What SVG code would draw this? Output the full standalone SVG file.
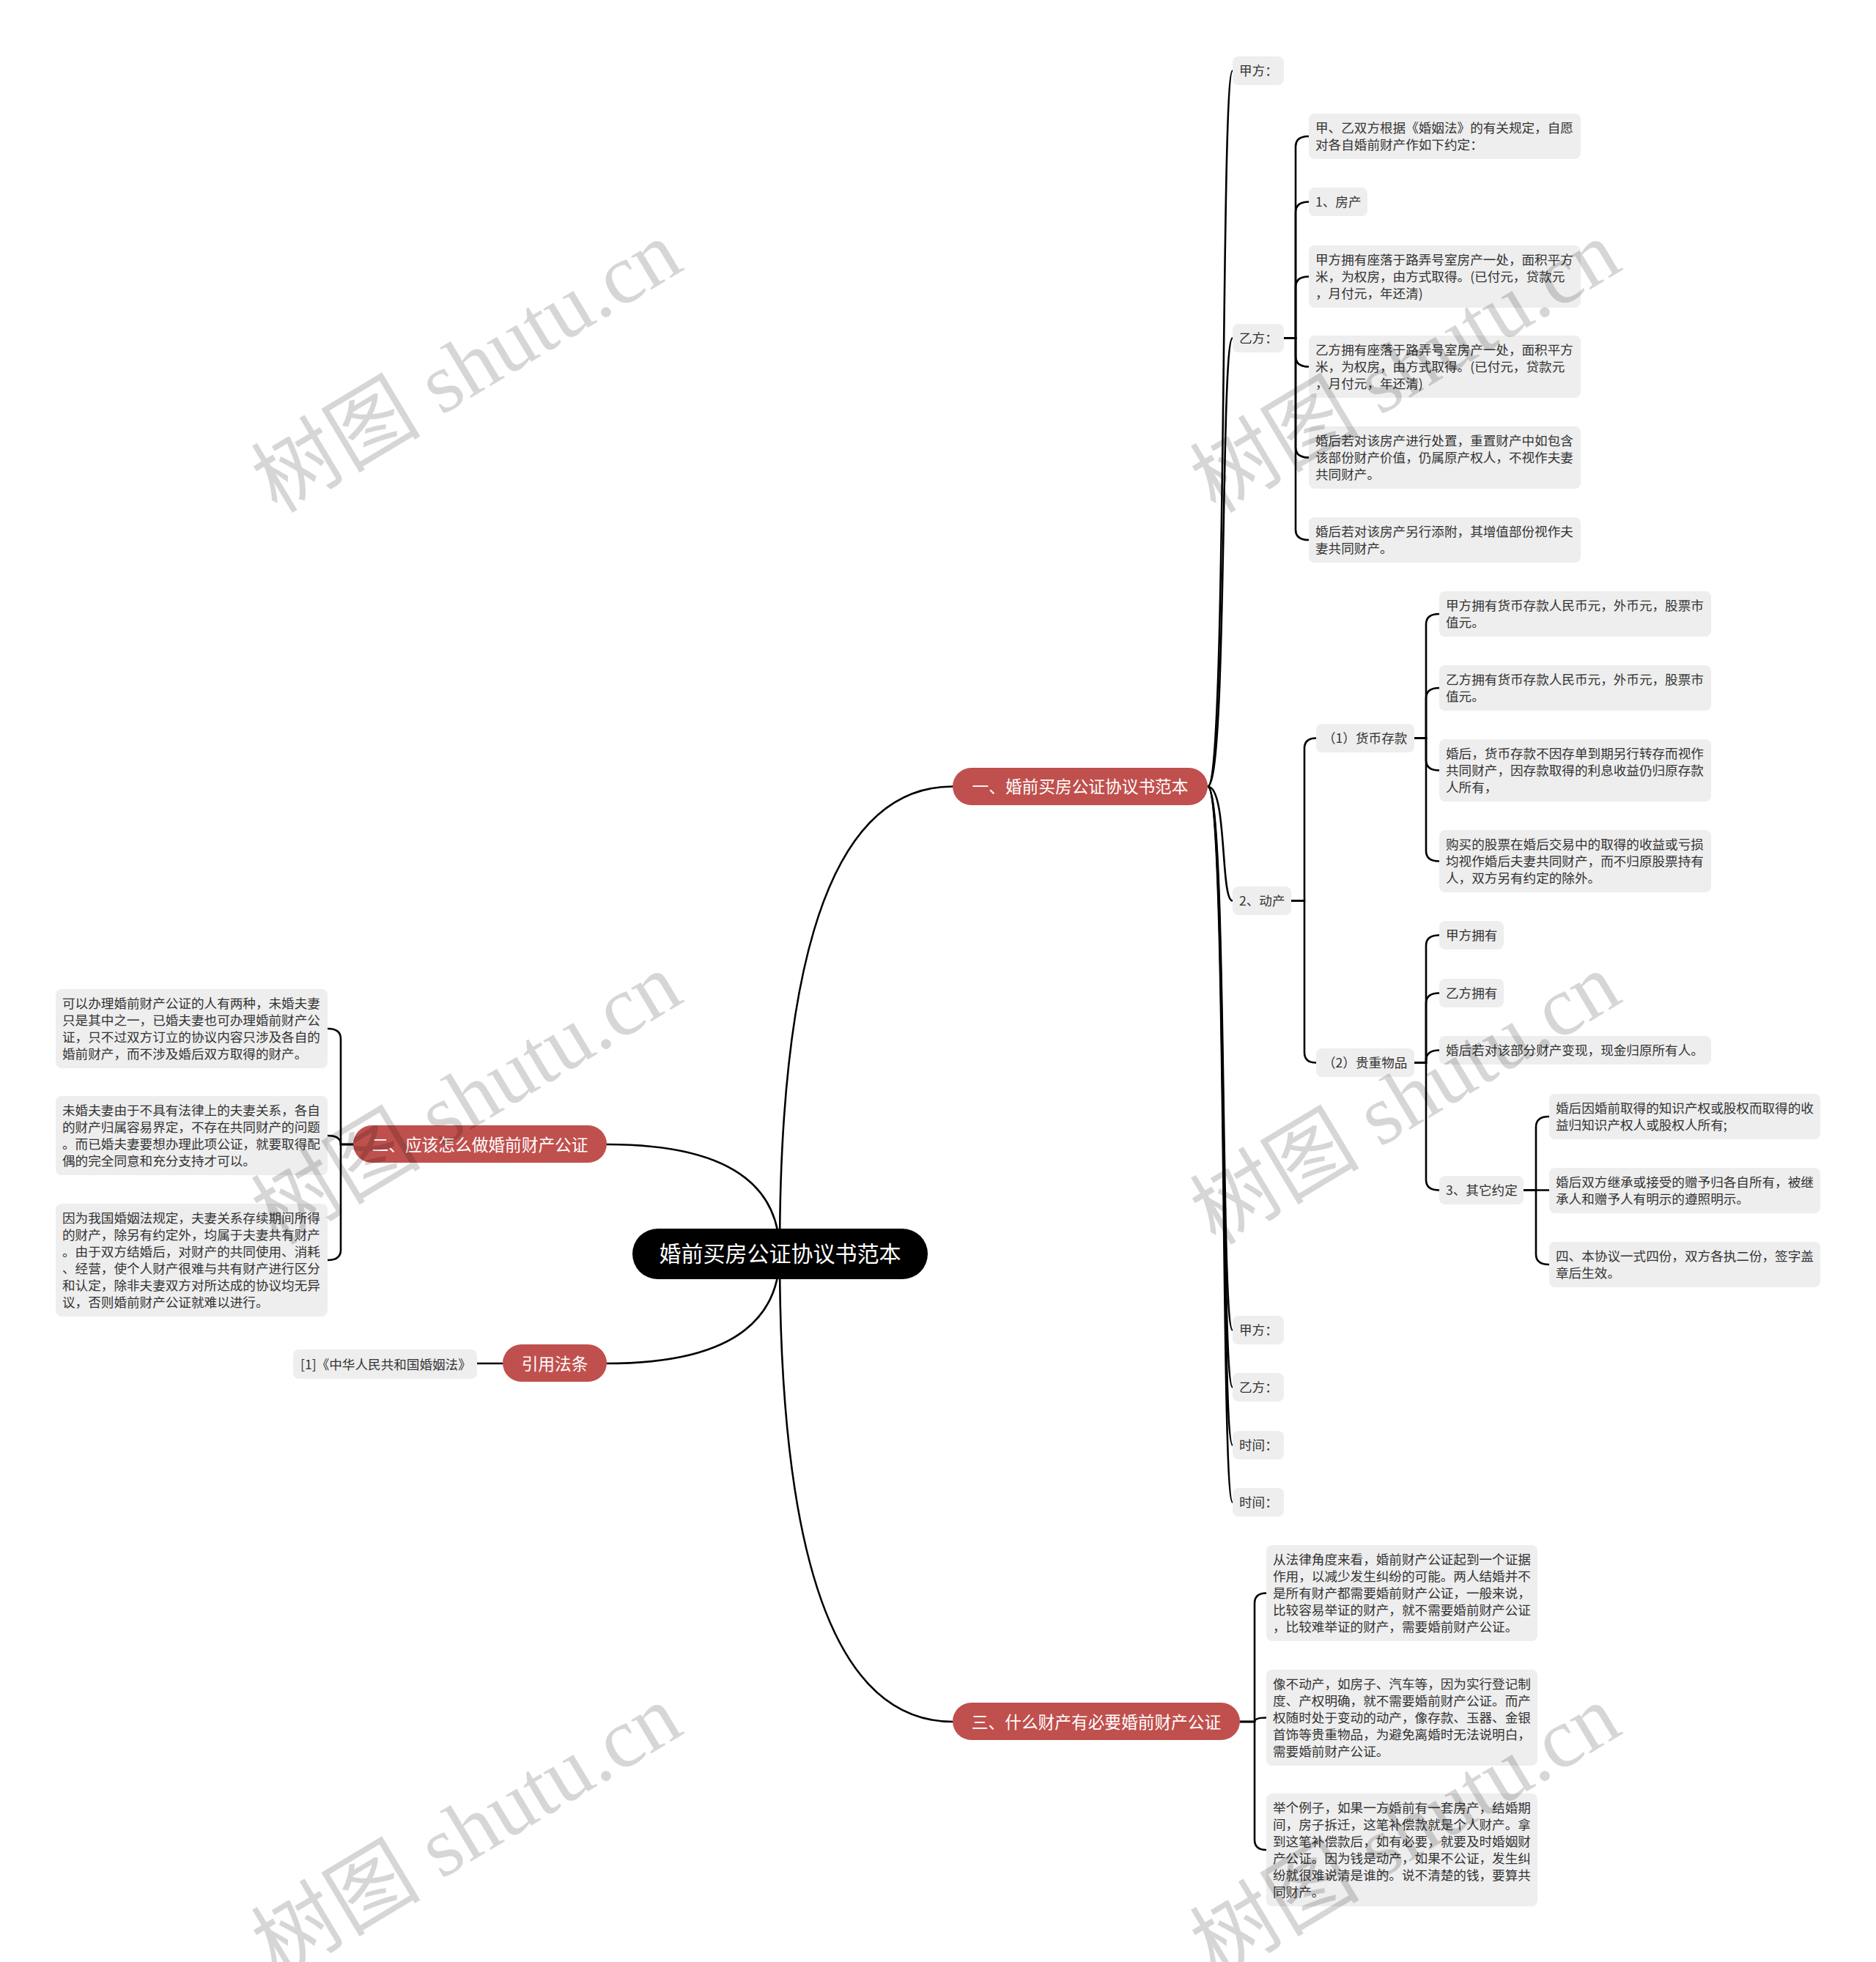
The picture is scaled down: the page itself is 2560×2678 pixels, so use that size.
<svg xmlns="http://www.w3.org/2000/svg" width="2560" height="2678" viewBox="0 0 2560 2678">
<style>
.conn path{fill:none;stroke:#000;stroke-width:2.6;stroke-linecap:round}
.leaf rect{fill:#eeeeee}
.leaf text{font-family:"Noto Sans CJK SC","Noto Sans",sans-serif;font-size:17.6px;fill:#333333}
.br rect{fill:#c0504d}
.br text{font-family:"Noto Sans CJK SC","Noto Sans",sans-serif;font-size:22.7px;fill:#ffffff;text-anchor:middle}
.root rect{fill:#000000}
.root text{font-family:"Noto Sans CJK SC","Noto Sans",sans-serif;font-size:30px;fill:#ffffff;text-anchor:middle}
.wm text{font-family:"Liberation Serif","Noto Sans CJK SC",serif;font-size:116px;fill:#000;fill-opacity:0.16}
</style>
<rect width="2560" height="2678" fill="#ffffff"/>
<g id="connectors" class="conn">
<path d="M1064 1711 Q1064 1073.5 1300 1073.5"/>
<path d="M1064 1711 Q1064 2350 1300 2350"/>
<path d="M1064 1711 Q1064 1562 828 1562"/>
<path d="M1064 1711 Q1064 1861 828 1861"/>
<path d="M686 1861 H651"/>
<path d="M1648 1073.5 C1675 1073.5 1665 96.5 1682 96.5"/>
<path d="M1648 1073.5 C1675 1073.5 1665 461.5 1682 461.5"/>
<path d="M1648 1073.5 C1675 1073.5 1665 1229.5 1682 1229.5"/>
<path d="M1648 1073.5 C1675 1073.5 1665 1815.5 1682 1815.5"/>
<path d="M1648 1073.5 C1675 1073.5 1665 1893.5 1682 1893.5"/>
<path d="M1648 1073.5 C1675 1073.5 1665 1972.5 1682 1972.5"/>
<path d="M1648 1073.5 C1675 1073.5 1665 2050.5 1682 2050.5"/>
<path d="M1752 461.5 H1768 V200 Q1768 186 1786 186"/>
<path d="M1752 461.5 H1768 V289.5 Q1768 275.5 1786 275.5"/>
<path d="M1752 461.5 H1768 V391.5 Q1768 377.5 1786 377.5"/>
<path d="M1752 461.5 H1768 V486.5 Q1768 500.5 1786 500.5"/>
<path d="M1752 461.5 H1768 V610.5 Q1768 624.5 1786 624.5"/>
<path d="M1752 461.5 H1768 V723 Q1768 737 1786 737"/>
<path d="M1762 1229.5 H1780 V1021.5 Q1780 1007.5 1796 1007.5"/>
<path d="M1762 1229.5 H1780 V1436.5 Q1780 1450.5 1796 1450.5"/>
<path d="M1930 1007.5 H1946 V852 Q1946 838 1964 838"/>
<path d="M1930 1007.5 H1946 V953 Q1946 939 1964 939"/>
<path d="M1930 1007.5 H1946 V1037.5 Q1946 1051.5 1964 1051.5"/>
<path d="M1930 1007.5 H1946 V1161.5 Q1946 1175.5 1964 1175.5"/>
<path d="M1930 1450.5 H1946 V1290.5 Q1946 1276.5 1964 1276.5"/>
<path d="M1930 1450.5 H1946 V1369.5 Q1946 1355.5 1964 1355.5"/>
<path d="M1930 1450.5 H1946 V1447.5 Q1946 1433.5 1964 1433.5"/>
<path d="M1930 1450.5 H1946 V1610.5 Q1946 1624.5 1964 1624.5"/>
<path d="M2079 1624.5 H2096 V1538 Q2096 1524 2114 1524"/>
<path d="M2079 1624.5 H2114"/>
<path d="M2079 1624.5 H2096 V1712 Q2096 1726 2114 1726"/>
<path d="M482 1562 H465 V1418 Q465 1404 447 1404"/>
<path d="M482 1562 H465 Q465 1550 447 1550"/>
<path d="M482 1562 H465 V1706 Q465 1720 447 1720"/>
<path d="M1692 2350 H1712 V2188.5 Q1712 2174.5 1728 2174.5"/>
<path d="M1692 2350 H1712 Q1712 2344.5 1728 2344.5"/>
<path d="M1692 2350 H1712 V2511 Q1712 2525 1728 2525"/>
</g>

<g id="root" class="root"><rect x="863" y="1677" width="403" height="69" rx="34.5"/><text x="1064.5" y="1722">婚前买房公证协议书范本</text></g>

<g id="b1" class="br"><rect x="1300" y="1048" width="348" height="51" rx="25.5"/><text x="1474" y="1082">一、婚前买房公证协议书范本</text></g>
<g id="b2" class="br"><rect x="482" y="1536" width="346" height="51" rx="25.5"/><text x="655" y="1570.5">二、应该怎么做婚前财产公证</text></g>
<g id="b4" class="br"><rect x="686" y="1835" width="142" height="51" rx="25.5"/><text x="757" y="1869.5">引用法条</text></g>
<g id="b3" class="br"><rect x="1300" y="2324" width="392" height="51" rx="25.5"/><text x="1496" y="2358.5">三、什么财产有必要婚前财产公证</text></g>

<g id="n-jiafang1" class="leaf"><rect x="1682" y="77" width="70" height="39" rx="8"/><text x="1691" y="103">甲方：</text></g>
<g id="n-yifang1" class="leaf"><rect x="1682" y="442" width="70" height="39" rx="8"/><text x="1691" y="468">乙方：</text></g>
<g id="n-dongchan" class="leaf"><rect x="1682" y="1210" width="80" height="39" rx="8"/><text x="1691" y="1236">2、动产</text></g>
<g id="n-jiafang2" class="leaf"><rect x="1682" y="1796" width="70" height="39" rx="8"/><text x="1691" y="1822">甲方：</text></g>
<g id="n-yifang2" class="leaf"><rect x="1682" y="1874" width="70" height="39" rx="8"/><text x="1691" y="1900">乙方：</text></g>
<g id="n-time1" class="leaf"><rect x="1682" y="1953" width="70" height="39" rx="8"/><text x="1691" y="1979">时间：</text></g>
<g id="n-time2" class="leaf"><rect x="1682" y="2031" width="70" height="39" rx="8"/><text x="1691" y="2057">时间：</text></g>

<g id="n-c1" class="leaf"><rect x="1786" y="155" width="371" height="62" rx="8"/><text x="1795" y="181">甲、乙双方根据《婚姻法》的有关规定，自愿<tspan x="1795" dy="23">对各自婚前财产作如下约定：</tspan></text></g>
<g id="n-c2" class="leaf"><rect x="1786" y="256" width="80" height="39" rx="8"/><text x="1795" y="282">1、房产</text></g>
<g id="n-c3" class="leaf"><rect x="1786" y="335" width="371" height="85" rx="8"/><text x="1795" y="361">甲方拥有座落于路弄号室房产一处，面积平方<tspan x="1795" dy="23">米，为权房，由方式取得。(已付元，贷款元</tspan><tspan x="1795" dy="23">，月付元，年还清)</tspan></text></g>
<g id="n-c4" class="leaf"><rect x="1786" y="458" width="371" height="85" rx="8"/><text x="1795" y="484">乙方拥有座落于路弄号室房产一处，面积平方<tspan x="1795" dy="23">米，为权房，由方式取得。(已付元，贷款元</tspan><tspan x="1795" dy="23">，月付元，年还清)</tspan></text></g>
<g id="n-c5" class="leaf"><rect x="1786" y="582" width="371" height="85" rx="8"/><text x="1795" y="608">婚后若对该房产进行处置，重置财产中如包含<tspan x="1795" dy="23">该部份财产价值，仍属原产权人，不视作夫妻</tspan><tspan x="1795" dy="23">共同财产。</tspan></text></g>
<g id="n-c6" class="leaf"><rect x="1786" y="706" width="371" height="62" rx="8"/><text x="1795" y="732">婚后若对该房产另行添附，其增值部份视作夫<tspan x="1795" dy="23">妻共同财产。</tspan></text></g>

<g id="n-huobi" class="leaf"><rect x="1796" y="988" width="134" height="39" rx="8"/><text x="1805" y="1014">（1）货币存款</text></g>
<g id="n-guizhong" class="leaf"><rect x="1796" y="1431" width="134" height="39" rx="8"/><text x="1805" y="1457">（2）贵重物品</text></g>

<g id="n-d1" class="leaf"><rect x="1964" y="807" width="371" height="62" rx="8"/><text x="1973" y="833">甲方拥有货币存款人民币元，外币元，股票市<tspan x="1973" dy="23">值元。</tspan></text></g>
<g id="n-d2" class="leaf"><rect x="1964" y="908" width="371" height="62" rx="8"/><text x="1973" y="934">乙方拥有货币存款人民币元，外币元，股票市<tspan x="1973" dy="23">值元。</tspan></text></g>
<g id="n-d3" class="leaf"><rect x="1964" y="1009" width="371" height="85" rx="8"/><text x="1973" y="1035">婚后，货币存款不因存单到期另行转存而视作<tspan x="1973" dy="23">共同财产，因存款取得的利息收益仍归原存款</tspan><tspan x="1973" dy="23">人所有，</tspan></text></g>
<g id="n-d4" class="leaf"><rect x="1964" y="1133" width="371" height="85" rx="8"/><text x="1973" y="1159">购买的股票在婚后交易中的取得的收益或亏损<tspan x="1973" dy="23">均视作婚后夫妻共同财产，而不归原股票持有</tspan><tspan x="1973" dy="23">人，双方另有约定的除外。</tspan></text></g>

<g id="n-e1" class="leaf"><rect x="1964" y="1257" width="88" height="39" rx="8"/><text x="1973" y="1283">甲方拥有</text></g>
<g id="n-e2" class="leaf"><rect x="1964" y="1336" width="88" height="39" rx="8"/><text x="1973" y="1362">乙方拥有</text></g>
<g id="n-e3" class="leaf"><rect x="1964" y="1414" width="371" height="39" rx="8"/><text x="1973" y="1440">婚后若对该部分财产变现，现金归原所有人。</text></g>
<g id="n-e4" class="leaf"><rect x="1964" y="1605" width="115" height="39" rx="8"/><text x="1973" y="1631">3、其它约定</text></g>

<g id="n-f1" class="leaf"><rect x="2114" y="1493" width="370" height="62" rx="8"/><text x="2123" y="1519">婚后因婚前取得的知识产权或股权而取得的收<tspan x="2123" dy="23">益归知识产权人或股权人所有;</tspan></text></g>
<g id="n-f2" class="leaf"><rect x="2114" y="1594" width="370" height="62" rx="8"/><text x="2123" y="1620">婚后双方继承或接受的赠予归各自所有，被继<tspan x="2123" dy="23">承人和赠予人有明示的遵照明示。</tspan></text></g>
<g id="n-f3" class="leaf"><rect x="2114" y="1695" width="370" height="62" rx="8"/><text x="2123" y="1721">四、本协议一式四份，双方各执二份，签字盖<tspan x="2123" dy="23">章后生效。</tspan></text></g>

<g id="n-g1" class="leaf"><rect x="76" y="1350" width="371" height="108" rx="8"/><text x="85" y="1376">可以办理婚前财产公证的人有两种，未婚夫妻<tspan x="85" dy="23">只是其中之一，已婚夫妻也可办理婚前财产公</tspan><tspan x="85" dy="23">证，只不过双方订立的协议内容只涉及各自的</tspan><tspan x="85" dy="23">婚前财产，而不涉及婚后双方取得的财产。</tspan></text></g>
<g id="n-g2" class="leaf"><rect x="76" y="1496" width="371" height="108" rx="8"/><text x="85" y="1522">未婚夫妻由于不具有法律上的夫妻关系，各自<tspan x="85" dy="23">的财产归属容易界定，不存在共同财产的问题</tspan><tspan x="85" dy="23">。而已婚夫妻要想办理此项公证，就要取得配</tspan><tspan x="85" dy="23">偶的完全同意和充分支持才可以。</tspan></text></g>
<g id="n-g3" class="leaf"><rect x="76" y="1643" width="371" height="154" rx="8"/><text x="85" y="1669">因为我国婚姻法规定，夫妻关系存续期间所得<tspan x="85" dy="23">的财产，除另有约定外，均属于夫妻共有财产</tspan><tspan x="85" dy="23">。由于双方结婚后，对财产的共同使用、消耗</tspan><tspan x="85" dy="23">、经营，使个人财产很难与共有财产进行区分</tspan><tspan x="85" dy="23">和认定，除非夫妻双方对所达成的协议均无异</tspan><tspan x="85" dy="23">议，否则婚前财产公证就难以进行。</tspan></text></g>

<g id="n-law" class="leaf"><rect x="400" y="1842" width="251" height="40" rx="8"/><text x="410" y="1868.5">[1]《中华人民共和国婚姻法》</text></g>

<g id="n-h1" class="leaf"><rect x="1728" y="2109" width="370" height="131" rx="8"/><text x="1737" y="2135">从法律角度来看，婚前财产公证起到一个证据<tspan x="1737" dy="23">作用，以减少发生纠纷的可能。两人结婚并不</tspan><tspan x="1737" dy="23">是所有财产都需要婚前财产公证，一般来说，</tspan><tspan x="1737" dy="23">比较容易举证的财产，就不需要婚前财产公证</tspan><tspan x="1737" dy="23">，比较难举证的财产，需要婚前财产公证。</tspan></text></g>
<g id="n-h2" class="leaf"><rect x="1728" y="2279" width="370" height="131" rx="8"/><text x="1737" y="2305">像不动产，如房子、汽车等，因为实行登记制<tspan x="1737" dy="23">度、产权明确，就不需要婚前财产公证。而产</tspan><tspan x="1737" dy="23">权随时处于变动的动产，像存款、玉器、金银</tspan><tspan x="1737" dy="23">首饰等贵重物品，为避免离婚时无法说明白，</tspan><tspan x="1737" dy="23">需要婚前财产公证。</tspan></text></g>
<g id="n-h3" class="leaf"><rect x="1728" y="2448" width="370" height="154" rx="8"/><text x="1737" y="2474">举个例子，如果一方婚前有一套房产，结婚期<tspan x="1737" dy="23">间，房子拆迁，这笔补偿款就是个人财产。拿</tspan><tspan x="1737" dy="23">到这笔补偿款后，如有必要，就要及时婚姻财</tspan><tspan x="1737" dy="23">产公证。因为钱是动产，如果不公证，发生纠</tspan><tspan x="1737" dy="23">纷就很难说清是谁的。说不清楚的钱，要算共</tspan><tspan x="1737" dy="23">同财产。</tspan></text></g>

<g id="watermarks" class="wm">
<text transform="translate(378,702) rotate(-31)">树图 shutu.cn</text>
<text transform="translate(1659,702) rotate(-31)">树图 shutu.cn</text>
<text transform="translate(378,1701) rotate(-31)">树图 shutu.cn</text>
<text transform="translate(1659,1701) rotate(-31)">树图 shutu.cn</text>
<text transform="translate(378,2700) rotate(-31)">树图 shutu.cn</text>
<text transform="translate(1659,2700) rotate(-31)">树图 shutu.cn</text>
</g>
</svg>
